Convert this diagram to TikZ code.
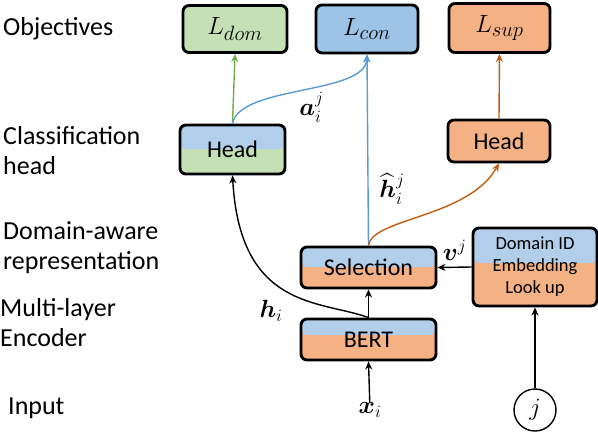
\documentclass[tikz,border=0pt]{standalone}
\usepackage{fontspec}
\setmainfont{Carlito}
\usepackage{amsmath,bm}
\usetikzlibrary{arrows.meta}
\definecolor{gfill}{HTML}{C5E0B4}
\definecolor{bfill}{HTML}{9DC3E6}
\definecolor{lbfill}{HTML}{B1CEEA}
\definecolor{ofill}{HTML}{F4B183}
\definecolor{garr}{HTML}{70AD47}
\definecolor{barr}{HTML}{5B9BD5}
\definecolor{oarr}{HTML}{C55A11}
\tikzset{
  box/.style={draw=black, line width=2.9pt, rounded corners=6pt, inner sep=0pt, font=\fontsize{24}{28}\selectfont},
  lossbox/.style={box, font=\fontsize{30}{34}\selectfont},
  twotone/.style n args={3}{path picture={
      \fill[#2] (path picture bounding box.south west) rectangle (path picture bounding box.north east);
      \fill[#1] (path picture bounding box.north west) rectangle ([yshift=-#3]path picture bounding box.north east);
  }},
  lab/.style={anchor=west, align=left, inner sep=0pt, font=\fontsize{26}{30}\selectfont},
  mlab/.style={inner sep=0pt, font=\fontsize{27}{30}\selectfont},
  arr/.style={line width=1.4pt, -{Stealth[length=8pt,width=7pt]}},
}
\begin{document}
\begin{tikzpicture}[x=1pt,y=-1pt]
\useasboundingbox (0,0) rectangle (598,434);
% left labels
\node[lab] (t1) at (3,29) {Objectives};
\node[lab] (t2) at (3,151) {Classification\\head};
\node[lab] (t3) at (3,248) {Domain-aware\\representation};
\node[lab] (t4) at (0,323) {Multi-layer\\Encoder};
\node[lab] (t5) at (8,408) {Input};
% objective boxes
\node[lossbox, fill=gfill, minimum width=104pt, minimum height=47pt] (ldom) at (235,29) {$L_{dom}$};
\node[lossbox, fill=bfill, minimum width=102pt, minimum height=48pt] (lcon) at (367,29) {$L_{con}$};
\node[lossbox, fill=ofill, minimum width=101pt, minimum height=49pt] (lsup) at (499.5,28) {$L_{sup}$};
% heads
\node[box, twotone={lbfill}{gfill}{24pt}, minimum width=105pt, minimum height=49pt] (headL) at (232.5,149.5) {Head};
\node[box, fill=ofill, minimum width=102pt, minimum height=42pt] (headR) at (499,141) {Head};
% selection / bert
\node[box, twotone={lbfill}{ofill}{20pt}, minimum width=135pt, minimum height=41pt] (sel) at (368.5,267.5) {Selection};
\node[box, twotone={lbfill}{ofill}{16pt}, minimum width=135pt, minimum height=41pt] (bert) at (368.5,339.5) {BERT};
\node[box, twotone={lbfill}{ofill}{35pt}, minimum width=124pt, minimum height=78pt, align=center, font=\fontsize{18.5}{22}\selectfont] (dom) at (535,267) {Domain ID\\Embedding\\Look up};
\node[draw=black, line width=1.4pt, circle, minimum size=42pt, inner sep=0pt, font=\fontsize{30}{32}\selectfont] (j) at (535,410) {$j$};
\node[mlab] (x) at (370,410) {$\bm{x}_i$};
\node[mlab] (hlab) at (271,311) {$\bm{h}_i$};
\node[mlab] (hhat) at (392,189) {$\widehat{\bm{h}}_i^j$};
% connectors
\draw[arr] (x) -- (bert.south);
\draw[arr] (bert.north) -- (sel.south);
\draw[arr] (j.north) -- (dom.south);
\draw[arr] (dom.west) -- node[mlab, above, yshift=6pt] {$\bm{v}^j$} (sel.east);
\draw[arr] (bert.north) .. controls (320,300) and (240,310) .. (headL.south);
\draw[arr, barr] (sel.north) -- (lcon.south);
\draw[arr, oarr] (sel.north) .. controls (372,218) and (468,218) .. (headR.south);
\draw[arr, garr] (headL.north) -- (ldom.south);
\draw[arr, barr] (headL.north) .. controls (240,85) and (365,95) .. node[mlab, pos=0.55, below, yshift=-4pt, text=black] {$\bm{a}_i^j$} (lcon.south);
\draw[arr, oarr] (headR.north) -- (lsup.south);
\end{tikzpicture}
\end{document}
